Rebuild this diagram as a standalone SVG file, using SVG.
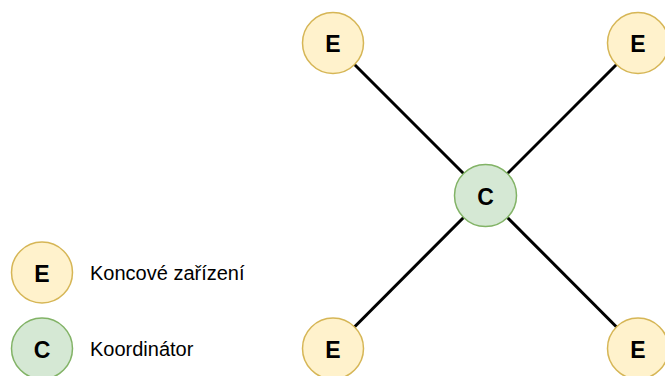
<svg xmlns="http://www.w3.org/2000/svg" width="665" height="376" viewBox="0 0 665 376">
<style>
.e{fill:#fff2cc;stroke:#d6b656;stroke-width:1.5}
.c{fill:#d5e8d4;stroke:#82b366;stroke-width:1.5}
.lbl{font-family:"Liberation Sans",Arial,sans-serif;font-weight:bold;font-size:23px;fill:#000;text-anchor:middle;dominant-baseline:central}
.leg{font-family:"Liberation Sans",Arial,sans-serif;font-size:20px;fill:#000}
.ln{stroke:#000;stroke-width:3;fill:none}
</style>
<rect width="665" height="376" fill="#fff"/>
<g id="connectors">
<line class="ln" x1="333" y1="43" x2="485.5" y2="195.5"/>
<line class="ln" x1="638" y1="43" x2="485.5" y2="195.5"/>
<line class="ln" x1="333" y1="348.5" x2="485.5" y2="195.5"/>
<line class="ln" x1="638" y1="348.5" x2="485.5" y2="195.5"/>
</g>
<g id="e1"><circle class="e" cx="333" cy="43" r="30.5"/><text class="lbl" x="333" y="44">E</text></g>
<g id="e2"><circle class="e" cx="638" cy="43" r="30.5"/><text class="lbl" x="638" y="44">E</text></g>
<g id="c1"><circle class="c" cx="485.5" cy="195.5" r="31"/><text class="lbl" x="485.5" y="196.5">C</text></g>
<g id="e3"><circle class="e" cx="333" cy="348.5" r="30.5"/><text class="lbl" x="333" y="349.5">E</text></g>
<g id="e4"><circle class="e" cx="638" cy="348.5" r="30.5"/><text class="lbl" x="638" y="349.5">E</text></g>
<g id="legend-e"><circle class="e" cx="42" cy="272.5" r="30.5"/><text class="lbl" x="42" y="273.5">E</text><text class="leg" x="90" y="280">Koncové zařízení</text></g>
<g id="legend-c"><circle class="c" cx="42" cy="348.5" r="30.5"/><text class="lbl" x="42" y="349.5">C</text><text class="leg" x="90" y="356">Koordinátor</text></g>
</svg>
